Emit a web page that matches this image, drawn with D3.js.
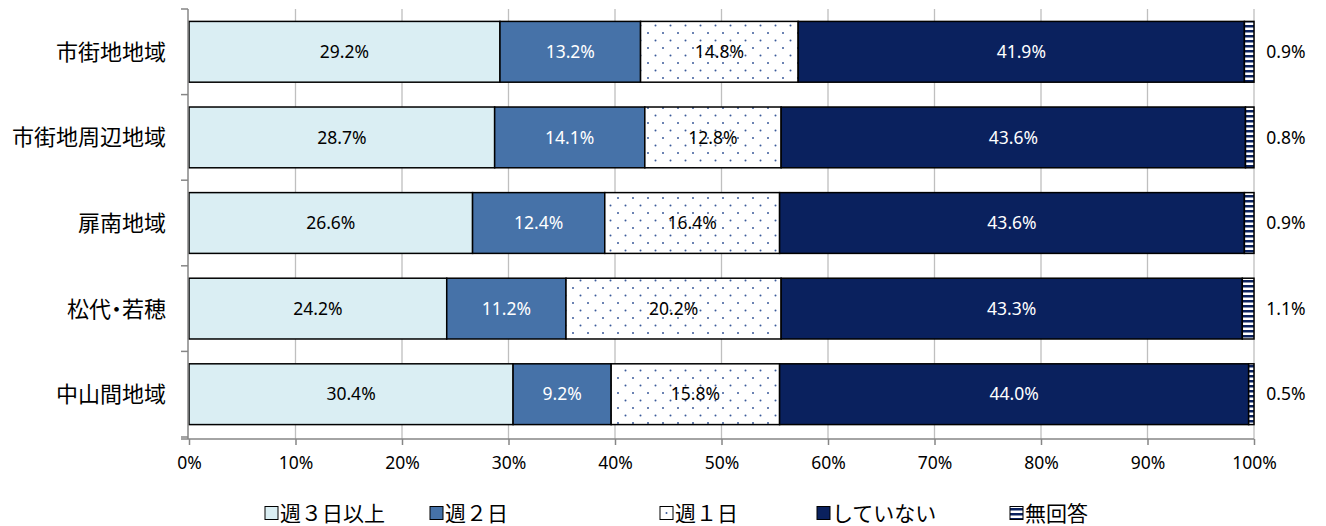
<!DOCTYPE html>
<html>
<head>
<meta charset="utf-8">
<script src="https://cdn.jsdelivr.net/npm/d3@7"></script>
<style>
  body { margin: 0; background: #fff; }
  .cat { font-feature-settings: "halt"; }
</style>
</head>
<body>
<div id="root"></div>
<script>
// chart data
let categories = ["市街地地域", "市街地周辺地域", "扉南地域", "松代・若穂", "中山間地域"];
let seriesNames = ["週３日以上", "週２日", "週１日", "していない", "無回答"];
let week3 = [29.2, 28.7, 26.6, 24.2, 30.4];
let week2 = [13.2, 14.1, 12.4, 11.2, 9.2];
let week1 = [14.8, 12.8, 16.4, 20.2, 15.8];
let none = [41.9, 43.6, 43.6, 43.3, 44.0];
let noAnswer = [0.9, 0.8, 0.9, 1.1, 0.5];
let xTicks = [0, 0.1, 0.2, 0.3, 0.4, 0.5, 0.6, 0.7, 0.8, 0.9, 1];

let values = [week3, week2, week1, none, noAnswer];
let fills = ["#DAEEF3", "#4672A8", "url(#dots)", "#0A215E", "url(#stripes)"];
let labelColors = ["#000", "#fff", "#000", "#fff", "#000"];

let width = 1326, height = 526;
let numFont = "'Noto Sans', sans-serif";
let jpFont = "'Noto Sans CJK JP', sans-serif";

let svg = d3.select("#root").append("svg")
  .attr("width", width)
  .attr("height", height);

// patterns
let defs = svg.append("defs");
let dots = defs.append("pattern").attr("id", "dots")
  .attr("patternUnits", "userSpaceOnUse").attr("width", 15).attr("height", 15);
dots.append("rect").attr("width", 15).attr("height", 15).attr("fill", "#fff");
dots.append("circle").attr("cx", 3).attr("cy", 3).attr("r", 1).attr("fill", "#3A5A9A");
dots.append("circle").attr("cx", 10.5).attr("cy", 10.5).attr("r", 1).attr("fill", "#3A5A9A");

let stripes = defs.append("pattern").attr("id", "stripes")
  .attr("patternUnits", "userSpaceOnUse").attr("width", 5).attr("height", 5);
stripes.append("rect").attr("width", 5).attr("height", 5).attr("fill", "#fff");
stripes.append("rect").attr("width", 5).attr("height", 2.5).attr("fill", "#0A215E");

// scales
let x = d3.scaleLinear().domain([0, 1]).range([189, 1254]);
let y = d3.scaleBand().domain(categories).range([9, 437])
  .paddingInner(0.29).paddingOuter(0.145);

// gridlines
svg.append("g")
  .selectAll("line")
  .data(xTicks.slice(1))
  .join("line")
  .attr("x1", (d) => x(d)).attr("x2", (d) => x(d))
  .attr("y1", 9).attr("y2", 439)
  .attr("stroke", "#BFBFBF").attr("stroke-width", 1.3);

// stacked bars (normalised to 100% like the original)
let rows = categories.map((c, i) => {
  let total = d3.sum(values, (s) => s[i]);
  let acc = 0;
  return values.map((s, k) => {
    let seg = { cat: c, k: k, v: s[i], x0: acc / total, x1: (acc + s[i]) / total };
    acc += s[i];
    return seg;
  });
});
let segs = rows.flat();

svg.append("g")
  .selectAll("rect")
  .data(segs)
  .join("rect")
  .attr("x", (d) => x(d.x0))
  .attr("y", (d) => y(d.cat))
  .attr("width", (d) => x(d.x1) - x(d.x0))
  .attr("height", y.bandwidth())
  .attr("fill", (d) => fills[d.k])
  .attr("stroke", "#000")
  .attr("stroke-width", 1.5);

// value labels inside
svg.append("g")
  .selectAll("text")
  .data(segs.filter((d) => d.k < 4))
  .join("text")
  .attr("x", (d) => x((d.x0 + d.x1) / 2))
  .attr("y", (d) => y(d.cat) + y.bandwidth() / 2)
  .attr("dy", "0.35em")
  .attr("text-anchor", "middle")
  .attr("font-size", 17.5)
  .attr("font-family", numFont)
  .attr("fill", (d) => labelColors[d.k])
  .text((d) => d.v.toFixed(1) + "%");

// no-answer labels at the right
svg.append("g")
  .selectAll("text")
  .data(segs.filter((d) => d.k === 4))
  .join("text")
  .attr("x", 1286)
  .attr("y", (d) => y(d.cat) + y.bandwidth() / 2)
  .attr("dy", "0.35em")
  .attr("text-anchor", "middle")
  .attr("font-size", 17.5)
  .attr("font-family", numFont)
  .attr("fill", "#000")
  .text((d) => d.v.toFixed(1) + "%");

// left axis
let axisColor = "#868686";
svg.append("line")
  .attr("x1", 188).attr("x2", 188).attr("y1", 9).attr("y2", 439)
  .attr("stroke", axisColor).attr("stroke-width", 1.5);
let bounds = [9].concat(categories.map((c) => y(c) + y.bandwidth() + y.step() * y.paddingInner() / 2));
svg.append("g")
  .selectAll("line")
  .data(bounds)
  .join("line")
  .attr("x1", 181).attr("x2", 188)
  .attr("y1", (d) => d).attr("y2", (d) => d)
  .attr("stroke", axisColor).attr("stroke-width", 1.5);

svg.append("g")
  .selectAll("text")
  .data(categories)
  .join("text")
  .attr("class", "cat")
  .attr("x", 166)
  .attr("y", (d) => y(d) + y.bandwidth() / 2)
  .attr("dy", "0.36em")
  .attr("text-anchor", "end")
  .attr("font-size", 22)
  .attr("font-family", jpFont)
  .attr("font-weight", 400)
  .attr("fill", "#000")
  .text((d) => d);

// bottom axis
let xAxis = svg.append("g")
  .attr("transform", "translate(0,439)")
  .call(d3.axisBottom(x).tickValues(xTicks).tickSize(6).tickSizeOuter(0)
    .tickFormat(d3.format(".0%")));
xAxis.select(".domain").attr("stroke", axisColor).attr("stroke-width", 1.5)
  .attr("d", "M181,0H" + x(1));
xAxis.selectAll(".tick line").attr("stroke", axisColor).attr("stroke-width", 1.5);
xAxis.selectAll(".tick text")
  .attr("font-size", 17.5)
  .attr("font-family", numFont)
  .attr("fill", "#000")
  .attr("y", 18);

// legend
let legendX = [265, 430, 660, 817, 1010];
let legendFills = ["#DAEEF3", "#4672A8", "#fff", "#0A215E", "url(#stripes)"];
let legend = svg.append("g")
  .selectAll("g")
  .data(seriesNames)
  .join("g")
  .attr("transform", (d, i) => "translate(" + legendX[i] + ",513)");
legend.append("rect")
  .attr("x", 0).attr("y", -6.5).attr("width", 13).attr("height", 13)
  .attr("fill", (d, i) => legendFills[i])
  .attr("stroke", "#000").attr("stroke-width", 1);
legend.filter((d, i) => i === 2).append("circle")
  .attr("cx", 6.5).attr("cy", 0).attr("r", 1).attr("fill", "#3A5A9A");
legend.append("text")
  .attr("x", 15)
  .attr("dy", "0.36em")
  .attr("font-size", 21)
  .attr("font-family", jpFont)
  .attr("fill", "#000")
  .text((d) => d);
</script>
</body>
</html>
